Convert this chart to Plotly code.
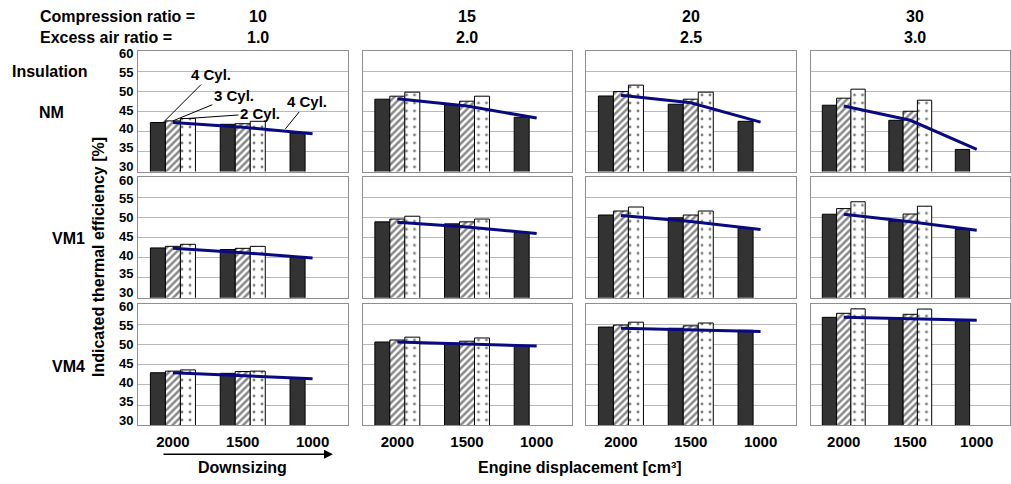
import plotly.graph_objects as go
from plotly.subplots import make_subplots

# ---------------- data ----------------
categories = ["2000", "1500", "1000"]
compression_ratio = ["10", "15", "20", "30"]
excess_air_ratio = ["1.0", "2.0", "2.5", "3.0"]
insulation = ["NM", "VM1", "VM4"]

# 4 cylinder (solid) bars, per insulation row, per column
cyl4_NM = [[42.2, 41.75, 39.6], [48.0, 46.6, 43.5], [48.8, 46.75, 42.5], [46.5, 42.75, 35.5]]
cyl4_VM1 = [[42.4, 42.0, 40.0], [48.9, 48.4, 46.3], [50.6, 49.9, 47.3], [50.8, 49.1, 47.0]]
cyl4_VM4 = [[43.0, 42.85, 41.75], [50.6, 50.3, 49.6], [54.3, 54.0, 53.5], [56.7, 56.5, 56.1]]

# 3 cylinder (hatched) bars
cyl3_NM = [[42.6, 41.9, None], [48.75, 47.5, None], [49.9, 48.0, None], [48.25, 45.0, None]]
cyl3_VM1 = [[42.8, 42.3, None], [49.6, 48.9, None], [51.6, 50.6, None], [52.2, 50.85, None]]
cyl3_VM4 = [[43.4, 43.3, None], [51.1, 50.8, None], [54.8, 54.6, None], [57.7, 57.45, None]]

# 2 cylinder (dotted) bars
cyl2_NM = [[43.2, 42.5, None], [49.75, 48.75, None], [51.5, 49.75, None], [50.5, 47.75, None]]
cyl2_VM1 = [[43.3, 42.8, None], [50.3, 49.6, None], [52.6, 51.6, None], [53.9, 52.8, None]]
cyl2_VM4 = [[43.7, 43.4, None], [51.8, 51.6, None], [55.5, 55.3, None], [58.8, 58.75, None]]

# 4 cylinder trend line
line_NM = [[42.2, 41.0, 39.4], [48.1, 46.3, 43.3], [49.0, 47.1, 42.3], [46.3, 42.75, 35.5]]
line_VM1 = [[42.3, 41.2, 39.9], [48.8, 47.6, 46.0], [50.5, 49.0, 47.0], [50.8, 48.9, 46.8]]
line_VM4 = [[43.0, 42.3, 41.5], [50.6, 50.1, 49.6], [54.0, 53.6, 53.2], [56.7, 56.4, 56.0]]

y_ticks = [30, 35, 40, 45, 50, 55, 60]

cyl4 = [cyl4_NM, cyl4_VM1, cyl4_VM4]
cyl3 = [cyl3_NM, cyl3_VM1, cyl3_VM4]
cyl2 = [cyl2_NM, cyl2_VM1, cyl2_VM4]
trend = [line_NM, line_VM1, line_VM4]

# ---------------- layout geometry ----------------
W, H = 1011, 484
col_px = [(138, 347.5), (362.5, 571.5), (586, 795.5), (810.5, 1010)]
row_px = [(51, 171.5), (177.3, 297.7), (304, 425.3)]

FONT = "Liberation Sans, Arial, sans-serif"
GRID = "#b9b9b9"
BORDER = "#8f8f8f"

fig = make_subplots(rows=3, cols=4, horizontal_spacing=0.01, vertical_spacing=0.01)

for r in range(3):
    for c in range(4):
        fig.add_trace(go.Bar(x=categories, y=cyl4[r][c], marker=dict(color="#333333", line=dict(color="#000000", width=1)),
                             showlegend=False, name="4 Cyl."), row=r + 1, col=c + 1)
        fig.add_trace(go.Bar(x=categories, y=cyl3[r][c],
                             marker=dict(color="white", line=dict(color="#000000", width=1),
                                         pattern=dict(shape="/", fgcolor="#111111", bgcolor="white", size=5, solidity=0.5)),
                             showlegend=False, name="3 Cyl."), row=r + 1, col=c + 1)
        fig.add_trace(go.Bar(x=categories, y=cyl2[r][c],
                             marker=dict(color="white", line=dict(color="#000000", width=1),
                                         pattern=dict(shape=".", fgcolor="#000000", bgcolor="white", size=8, solidity=0.1)),
                             showlegend=False, name="2 Cyl."), row=r + 1, col=c + 1)
        fig.add_trace(go.Scatter(x=categories, y=trend[r][c], mode="lines",
                                 line=dict(color="#0a0a80", width=3), showlegend=False),
                      row=r + 1, col=c + 1)

        x0, x1 = col_px[c]
        y0, y1 = row_px[r]
        fig.update_xaxes(domain=[x0 / W, x1 / W], range=[-0.5, 2.5], type="category",
                         showline=True, mirror=True, linecolor=BORDER, linewidth=1,
                         showgrid=False, zeroline=False, ticks="",
                         showticklabels=(r == 2), ticklabelstandoff=3,
                         tickfont=dict(family=FONT, size=15, color="black", weight="bold"),
                         row=r + 1, col=c + 1)
        fig.update_yaxes(domain=[1 - y1 / H, 1 - y0 / H], range=[30, 60], tickvals=y_ticks,
                         showline=True, mirror=True, linecolor=BORDER, linewidth=1,
                         showgrid=True, gridcolor=GRID, gridwidth=1, zeroline=False, ticks="",
                         showticklabels=False,
                         row=r + 1, col=c + 1)

fig.update_layout(
    width=W, height=H, margin=dict(l=0, r=0, t=0, b=0),
    plot_bgcolor="white", paper_bgcolor="white",
    barmode="group", bargap=0.355, bargroupgap=0,
    font=dict(family=FONT, color="black"),
)

# y tick labels of the left column (slightly compressed spacing, as in the original)
tick_font = dict(family=FONT, size=13, color="black", weight="bold")
for r in range(3):
    yref = "y" if r == 0 else f"y{r * 4 + 1}"
    for v in y_ticks:
        fig.add_annotation(text=str(v), x=135 / W, xref="paper", y=v, yref=yref,
                           xanchor="right", yanchor="middle", showarrow=False,
                           yshift=-(2.7 - (60 - v) * 0.26), font=tick_font)

bold16 = dict(family=FONT, size=16, color="black", weight="bold")

def px_ann(text, x, y, font, xanchor="center", **kw):
    fig.add_annotation(text=text, x=x / W, y=1 - y / H, xref="paper", yref="paper",
                       showarrow=False, xanchor=xanchor, yanchor="middle", font=font, **kw)

# header texts
px_ann("Compression ratio =", 38, 16, bold16, xanchor="left")
px_ann("Excess air ratio =", 38, 37, bold16, xanchor="left")
hdr_x = [258, 467, 690.5, 915]
for i in range(4):
    px_ann(compression_ratio[i], hdr_x[i], 16, bold16)
    px_ann(excess_air_ratio[i], hdr_x[i], 37, bold16)

px_ann("Insulation", 10, 72, bold16, xanchor="left")
row_label_y = [112, 238, 366]
row_label_x = [37, 50, 50]
for i in range(3):
    px_ann(insulation[i], row_label_x[i], row_label_y[i], bold16, xanchor="left")

px_ann("Indicated thermal efficiency [%]", 98, 257, bold16, textangle=-90)
px_ann("Engine displacement [cm³]", 580, 467, bold16)
px_ann("Downsizing", 242, 467, bold16)

# downsizing arrow
fig.add_annotation(x=333 / W, y=1 - 454.3 / H, xref="paper", yref="paper", text="",
                   showarrow=True, ax=-171, ay=0, axref="pixel", ayref="pixel",
                   arrowhead=2, arrowsize=1.2, arrowwidth=1.5, arrowcolor="black", standoff=0)

# cylinder labels in the first panel
cyl_font = dict(family=FONT, size=15, color="black", weight="bold")
labels = [
    ("4 Cyl.", -0.14, cyl4_NM[0][0], 48, -48),
    ("3 Cyl.", 0.0, cyl3_NM[0][0], 61, -25),
    ("2 Cyl.", 0.215, cyl2_NM[0][0], 72, -5),
    ("4 Cyl.", 1.61, 40.6, 22, -27),
]
for txt, xv, yv, ax, ay in labels:
    fig.add_annotation(text=txt, x=xv, y=yv, xref="x", yref="y", showarrow=True,
                       ax=ax, ay=ay, arrowhead=0, arrowwidth=1, arrowcolor="black",
                       standoff=0, font=cyl_font, bgcolor="rgba(0,0,0,0)")

fig.write_html("out.html")
